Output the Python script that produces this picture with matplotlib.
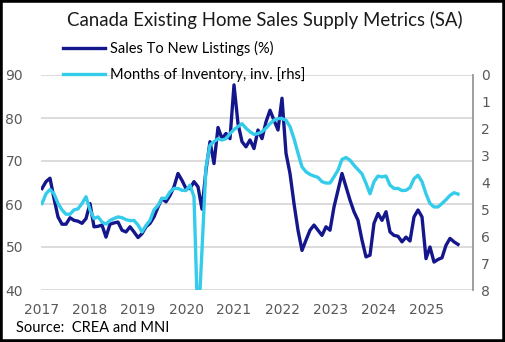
import numpy as np
import matplotlib.pyplot as plt
from matplotlib.patches import Rectangle

# Monthly, Jan 2017 - Sep 2025
YEARS = ["2017", "2018", "2019", "2020", "2021", "2022", "2023", "2024", "2025"]

SALES_TO_NEW_LISTINGS = [
    63.6, 65.2, 66.0, 61.3, 57.0, 55.3, 55.3, 56.8, 56.2, 56.0, 55.5, 56.6,
    60.1, 54.7, 54.8, 55.1, 52.3, 55.3, 55.6, 55.8, 53.9, 53.5, 54.7, 53.5,
    52.2, 53.1, 54.7, 55.5, 57.0, 59.3, 61.3, 60.5, 62.0, 64.0, 67.1, 65.5,
    63.6, 63.6, 65.2, 64.0, 58.8, 67.9, 74.5, 69.4, 77.8, 75.2, 76.4, 75.2,
    87.7, 78.7, 74.5, 73.3, 74.9, 72.9, 77.2, 75.2, 79.1, 81.8, 79.5, 77.2,
    84.6, 71.8, 67.1, 60.1, 53.9, 49.2, 51.6, 53.9, 55.1, 53.9, 52.7, 54.7,
    53.9, 59.3, 63.2, 67.1, 64.0, 60.9, 58.2, 56.2, 51.6, 47.7, 48.1, 55.5,
    57.8, 56.2, 58.2, 53.5, 52.7, 52.5, 51.2, 52.3, 51.4, 57.0, 58.6, 57.0,
    47.3, 50.0, 46.5, 47.1, 47.5, 50.4, 52.0, 51.2, 50.6,
]

MONTHS_OF_INVENTORY = [
    4.78, 4.42, 4.26, 4.42, 4.78, 5.02, 5.18, 5.18, 5.02, 4.98, 4.78, 4.53,
    5.02, 5.34, 5.28, 5.47, 5.55, 5.41, 5.34, 5.28, 5.31, 5.38, 5.42, 5.41,
    5.58, 5.84, 5.60, 5.41, 5.02, 4.85, 4.59, 4.59, 4.35, 4.22, 4.22, 4.29,
    4.30, 4.10, 4.53, 9.50, 6.50, 3.42, 2.61, 2.48, 2.37, 2.42, 2.37, 2.18,
    2.03, 1.92, 1.81, 1.98, 2.11, 2.21, 2.18, 2.11, 1.98, 1.81, 1.68, 1.62,
    1.62, 1.68, 1.92, 2.37, 2.91, 3.42, 3.60, 3.70, 3.76, 3.81, 3.97, 4.02,
    4.02, 3.79, 3.54, 3.14, 3.07, 3.17, 3.36, 3.52, 3.68, 4.03, 4.42, 3.97,
    3.76, 3.79, 3.76, 4.10, 4.22, 4.22, 4.30, 4.29, 4.19, 3.86, 3.73, 3.97,
    4.42, 4.78, 4.91, 4.91, 4.78, 4.64, 4.48, 4.38, 4.43,
]

NAVY = "#14168C"
CYAN = "#35CBEA"
GRID = "#D9D9D9"
TICK = "#595959"
TEXT_FONT = ["Lato", "DejaVu Sans"]

months = np.arange(len(SALES_TO_NEW_LISTINGS))

W, H = 505, 342
fig = plt.figure(figsize=(W / 100, H / 100), dpi=100)
ax = fig.add_axes([41 / W, 1 - 290 / H, (473 - 41) / W, (290 - 75) / H])
ax2 = ax.twinx()

ax.plot(months, SALES_TO_NEW_LISTINGS, color=NAVY, lw=2.4, solid_joinstyle="round")
ax2.plot(months, MONTHS_OF_INVENTORY, color=CYAN, lw=2.4, solid_joinstyle="round")

ax.set_ylim(40, 90)
ax.set_yticks(range(40, 91, 10))
ax2.set_ylim(8, 0)
ax2.set_yticks(range(0, 9))
ax.set_xlim(-0.25, 107.75)
ax.set_xticks(range(0, 12 * len(YEARS), 12))
ax.set_xticklabels(YEARS)

ax.grid(axis="y", color=GRID, lw=1.3)
ax.set_axisbelow(True)
for name, sp in ax.spines.items():
    sp.set_visible(False)
for name, sp in ax2.spines.items():
    sp.set_visible(name == "right")
ax2.spines["right"].set_color("#969696")
ax2.spines["right"].set_linewidth(1.3)

ax.tick_params(axis="y", length=0, pad=13, labelsize=10, labelcolor=TICK)
ax.tick_params(axis="x", length=0, pad=9, labelsize=10, labelcolor=TICK)
ax2.tick_params(axis="y", length=0, pad=6, labelsize=10, labelcolor=TICK)

fig.text(0.525, 1 - 20 / H, "Canada Existing Home Sales Supply Metrics (SA)",
         ha="center", va="center", fontsize=13.4, family=TEXT_FONT, color="#1A1A1A")

handles = [ax.get_lines()[0], ax2.get_lines()[0]]
fig.legend(handles, ["Sales To New Listings (%)", "Months of Inventory, inv. [rhs]"],
           loc="upper left", bbox_to_anchor=(63 / W, 1 - 41 / H), frameon=False,
           borderpad=0, borderaxespad=0, handlelength=2.9, handletextpad=0.3,
           labelspacing=0.75, prop={"family": TEXT_FONT, "size": 10.5})

fig.text(16 / W, 1 - 328 / H, "Source:  CREA and MNI", ha="left", va="center",
         fontsize=10.5, family=TEXT_FONT, color="black")

fig.patches.append(Rectangle((0, 0), 1, 1, transform=fig.transFigure,
                             fill=False, lw=4, ec="black"))

fig.savefig("out.png", dpi=100)
